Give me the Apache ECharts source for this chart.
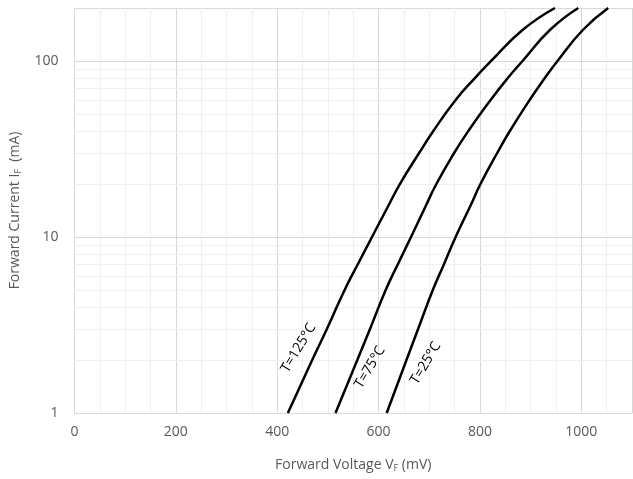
<!DOCTYPE html>
<html><head><meta charset="utf-8">
<script src="https://cdn.jsdelivr.net/npm/echarts@6/dist/echarts.min.js"></script>
<style>html,body{margin:0;padding:0;background:#fff}#c{width:633px;height:479px}</style>
</head><body><div id="c"></div>
<script>
// Forward current (mA) sample levels shared by all curves
const current = [1, 2, 3, 5, 7, 10, 15, 20, 30, 40, 60, 80, 100, 150, 200];
// Forward voltage (mV) at those currents
const vf125 = [421, 469, 498, 533, 559, 587, 619, 642, 680, 708, 752, 790, 822, 884, 948];
const vf75  = [515, 558, 583, 614, 638, 664, 693, 714, 749, 777, 821, 855, 884, 938, 994];
const vf25  = [616, 655, 678, 707, 729, 752, 781, 801, 834, 859, 898, 928, 953, 1003, 1053];
const curveNames = ['T=125°C', 'T=75°C', 'T=25°C'];
// label anchor points (mV, mA)
const labelVf = [442, 583, 693];
const labelIf = [2.34, 1.82, 1.92];
// x tick labels and minor log gridlines
const xTickLabels = [0, 200, 400, 600, 800, 1000];
const yMinor = [2, 3, 4, 5, 6, 7, 8, 9, 20, 30, 40, 50, 60, 70, 80, 90];

const font = 'Open Sans';
const txt = '#595959';
const curves = [vf125, vf75, vf25];

const series = curves.map((vf, i) => ({
  name: curveNames[i],
  type: 'line',
  smooth: true,
  symbol: 'none',
  z: 3,
  lineStyle: { color: '#000', width: 2.5 },
  data: vf.map((v, j) => [v, current[j]]),
  markPoint: {
    silent: true,
    symbol: 'circle',
    symbolSize: 1,
    itemStyle: { color: 'rgba(0,0,0,0)' },
    label: {
      show: true, position: 'inside', rotate: 59,
      formatter: curveNames[i], color: '#000',
      fontFamily: font, fontSize: 14
    },
    data: [{ coord: [labelVf[i], labelIf[i]] }]
  }
}));
series.push({
  type: 'line', data: [], z: 1, silent: true,
  markLine: {
    z: 1, zlevel: 0,
    silent: true, symbol: ['none', 'none'], animation: false,
    label: { show: false },
    lineStyle: { color: '#efefef', width: 1, type: 'solid' },
    emphasis: { disabled: true },
    data: yMinor.map(v => ({ yAxis: v }))
  }
});

const chart = echarts.init(document.getElementById('c'));
chart.setOption({
  animation: false,
  grid: { left: 74, right: 1, top: 8, bottom: 66, containLabel: false },
  xAxis: {
    type: 'value', min: 0, max: 1100, interval: 200,
    name: 'Forward Voltage V{sub|F} (mV)', nameLocation: 'middle', nameGap: 45,
    nameTextStyle: { color: txt, fontFamily: font, fontSize: 14,
      rich: { sub: { fontSize: 9, color: txt, fontFamily: font, padding: [6, 0, 0, 0] } } },
    axisLine: { show: true, lineStyle: { color: '#d9d9d9' } },
    axisTick: { show: false },
    axisLabel: { color: txt, fontFamily: font, fontSize: 14, margin: 12, showMaxLabel: false,
      formatter: v => (xTickLabels.indexOf(v) >= 0 ? String(v) : '') },
    splitLine: { show: true, lineStyle: { color: '#d9d9d9' } },
    minorTick: { show: false, splitNumber: 4 },
    minorSplitLine: { show: true, lineStyle: { color: '#efefef' } }
  },
  yAxis: {
    type: 'log', logBase: 10, min: 1, max: 200,
    name: 'Forward Current I{sub|F}  (mA)', nameLocation: 'middle', nameGap: 52, nameRotate: 90,
    nameTextStyle: { color: txt, fontFamily: font, fontSize: 14,
      rich: { sub: { fontSize: 9, color: txt, fontFamily: font, padding: [6, 0, 0, 0] } } },
    axisLine: { show: true, lineStyle: { color: '#d9d9d9' } },
    axisTick: { show: false },
    axisLabel: { color: txt, fontFamily: font, fontSize: 14, margin: 16, showMaxLabel: false },
    splitLine: { show: true, lineStyle: { color: '#d9d9d9' } }
  },
  series: series
});
</script></body></html>
